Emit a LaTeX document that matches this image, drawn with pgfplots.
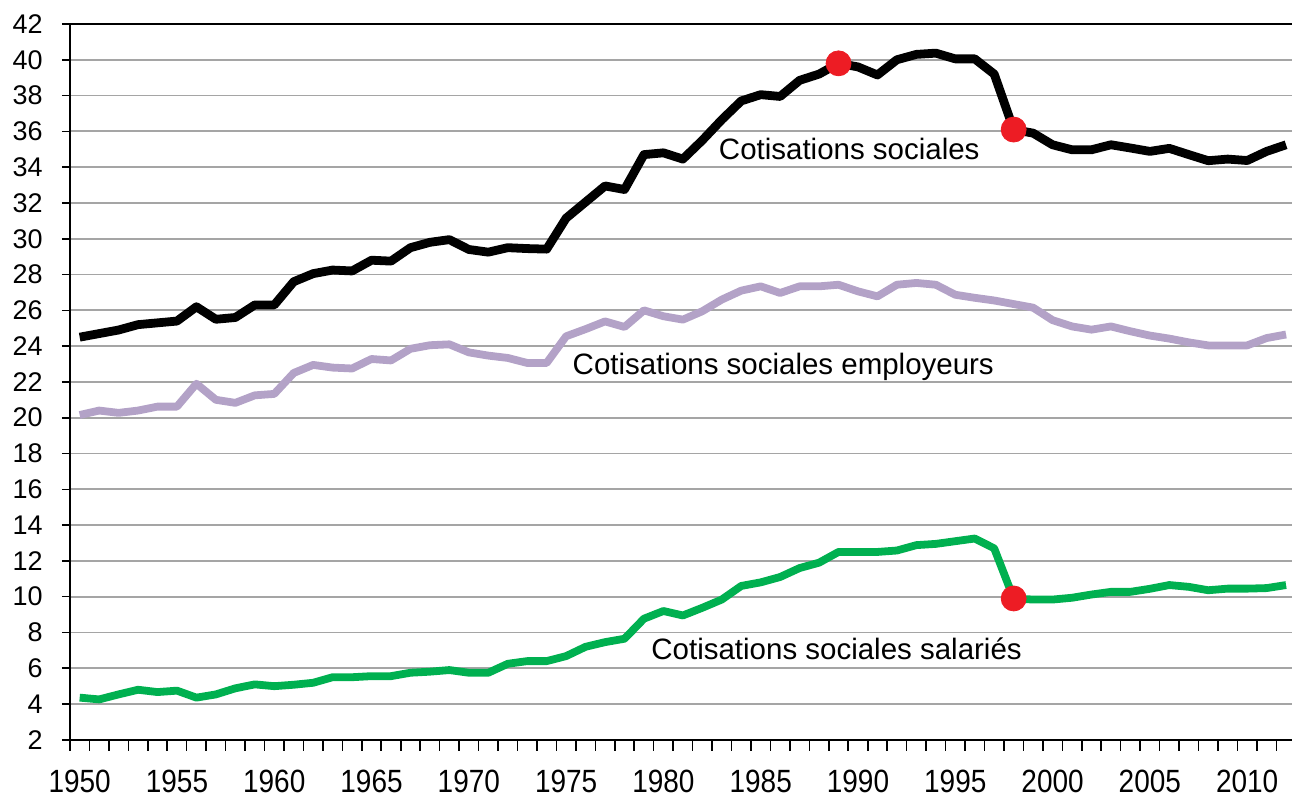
\documentclass[border=0pt]{standalone}
\usepackage{fontspec}
\setmainfont{Liberation Sans}
\usepackage{pgfplots}
\usepackage{graphicx}
\pgfplotsset{compat=1.18}
\definecolor{lav}{RGB}{179,162,199}
\definecolor{grn}{RGB}{0,176,80}
\definecolor{redd}{RGB}{237,28,36}
\definecolor{gridc}{RGB}{165,165,165}
\begin{document}
\begin{tikzpicture}
\begin{axis}[
  scale only axis,
  width=611.4pt, height=358.2pt,
  xmin=1949.5, xmax=2012.3,
  ymin=2, ymax=42,
  axis x line*=bottom, axis y line*=left,
  axis line style={black, line width=0.9pt},
  clip=true,
  ytick={2,4,...,40},
  extra y ticks={42},
  extra y tick style={grid style={black, line width=1.1pt}},
  ymajorgrids,
  grid style={gridc, line width=0.9pt},
  tick align=outside,
  major tick length=4pt,
  minor tick length=5.5pt,
  tick style={black, line width=0.8pt},
  xtick={1950,1955,...,2010},
  major x tick style={draw=none},
  minor xtick={1949.5,1950.5,...,2011.5},
  xticklabel={\scalebox{1}[1.15]{\pgfmathprintnumber[1000 sep={},fixed,precision=0]{\tick}}},
  xticklabel style={anchor=north, inner sep=0pt, yshift=-11pt, font=\fontsize{14}{16}\selectfont},
  yticklabel style={anchor=east, inner sep=0pt, xshift=-9.5pt, font=\fontsize{13.5}{16}\selectfont},
  /pgf/number format/assume math mode=true,
]
\addplot[lav, line width=3.9pt, line join=round] coordinates {
(1950,20.15)(1951,20.4)(1952,20.27)(1953,20.4)(1954,20.62)(1955,20.62)(1956,21.9)(1957,21.0)(1958,20.83)(1959,21.25)
(1960,21.33)(1961,22.5)(1962,22.95)(1963,22.8)(1964,22.75)(1965,23.28)(1966,23.2)(1967,23.85)(1968,24.05)(1969,24.1)
(1970,23.65)(1971,23.47)(1972,23.34)(1973,23.06)(1974,23.06)(1975,24.55)(1976,24.95)(1977,25.38)(1978,25.07)(1979,26.0)
(1980,25.67)(1981,25.48)(1982,25.95)(1983,26.6)(1984,27.1)(1985,27.34)(1986,26.97)(1987,27.34)(1988,27.34)(1989,27.43)
(1990,27.06)(1991,26.78)(1992,27.43)(1993,27.53)(1994,27.43)(1995,26.87)(1996,26.7)(1997,26.55)(1998,26.35)(1999,26.15)
(2000,25.45)(2001,25.1)(2002,24.92)(2003,25.1)(2004,24.83)(2005,24.59)(2006,24.42)(2007,24.21)(2008,24.04)(2009,24.04)
(2010,24.04)(2011,24.45)(2012,24.65)};
\addplot[grn, line width=3.9pt, line join=round] coordinates {
(1950,4.36)(1951,4.26)(1952,4.54)(1953,4.8)(1954,4.67)(1955,4.75)(1956,4.36)(1957,4.54)(1958,4.88)(1959,5.1)
(1960,5.0)(1961,5.08)(1962,5.19)(1963,5.5)(1964,5.5)(1965,5.56)(1966,5.56)(1967,5.75)(1968,5.81)(1969,5.9)
(1970,5.75)(1971,5.75)(1972,6.25)(1973,6.4)(1974,6.4)(1975,6.68)(1976,7.2)(1977,7.46)(1978,7.65)(1979,8.77)
(1980,9.2)(1981,8.95)(1982,9.38)(1983,9.84)(1984,10.6)(1985,10.8)(1986,11.1)(1987,11.6)(1988,11.9)(1989,12.5)
(1990,12.5)(1991,12.5)(1992,12.58)(1993,12.88)(1994,12.95)(1995,13.1)(1996,13.25)(1997,12.7)(1998,9.9)(1999,9.84)
(2000,9.84)(2001,9.94)(2002,10.12)(2003,10.27)(2004,10.27)(2005,10.44)(2006,10.65)(2007,10.55)(2008,10.36)(2009,10.45)
(2010,10.45)(2011,10.48)(2012,10.65)};
\addplot[black, line width=4.4pt, line join=round] coordinates {
(1950,24.5)(1951,24.7)(1952,24.9)(1953,25.2)(1954,25.3)(1955,25.4)(1956,26.2)(1957,25.5)(1958,25.6)(1959,26.3)
(1960,26.3)(1961,27.6)(1962,28.05)(1963,28.25)(1964,28.2)(1965,28.8)(1966,28.75)(1967,29.5)(1968,29.8)(1969,29.95)
(1970,29.4)(1971,29.25)(1972,29.5)(1973,29.45)(1974,29.42)(1975,31.15)(1976,32.05)(1977,32.95)(1978,32.75)(1979,34.7)
(1980,34.8)(1981,34.45)(1982,35.5)(1983,36.65)(1984,37.7)(1985,38.05)(1986,37.95)(1987,38.85)(1988,39.2)(1989,39.8)
(1990,39.6)(1991,39.15)(1992,40.0)(1993,40.3)(1994,40.37)(1995,40.05)(1996,40.05)(1997,39.2)(1998,36.1)(1999,35.9)
(2000,35.25)(2001,34.97)(2002,34.97)(2003,35.25)(2004,35.07)(2005,34.88)(2006,35.05)(2007,34.7)(2008,34.36)(2009,34.45)
(2010,34.37)(2011,34.88)(2012,35.25)};
\addplot[only marks, mark=*, mark size=6.25pt, mark options={fill=redd, draw=redd}] coordinates {
(1989,39.8)(1998,36.1)(1998,9.9)};
\node[anchor=base, inner sep=0pt, font=\fontsize{14.75}{17}\selectfont] at (axis cs:1989.55,34.41) {Cotisations sociales};
\node[anchor=base, inner sep=0pt, font=\fontsize{14.75}{17}\selectfont] at (axis cs:1986.16,22.41) {Cotisations sociales employeurs};
\node[anchor=base, inner sep=0pt, font=\fontsize{14.75}{17}\selectfont] at (axis cs:1988.9,6.49) {Cotisations sociales salariés};
\end{axis}
\path ([xshift=-35pt,yshift=-29.75pt]current axis.south west) rectangle ([yshift=12pt]current axis.north east);
\end{tikzpicture}
\end{document}
